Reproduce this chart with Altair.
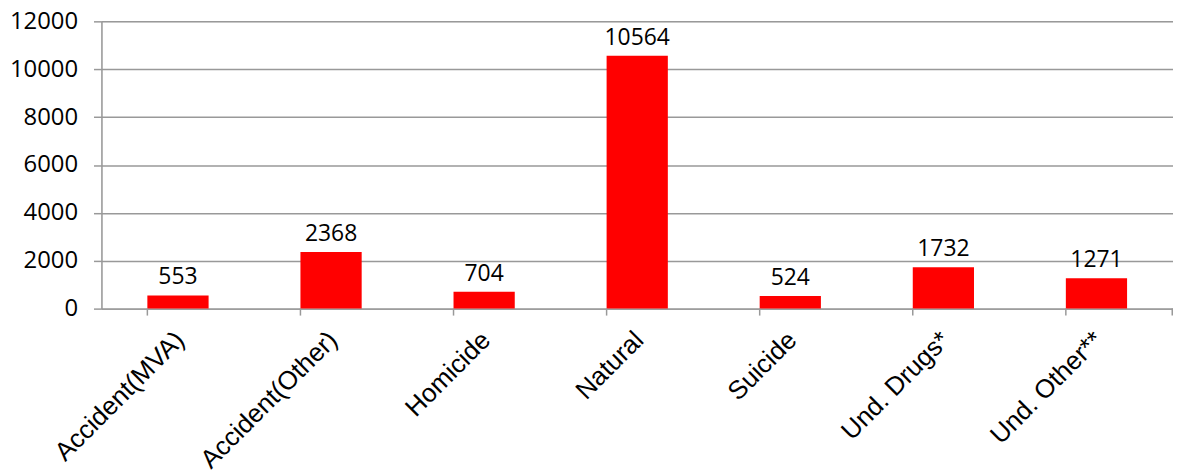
import altair as alt
import pandas as pd

categories = ["Accident(MVA)", "Accident(Other)", "Homicide", "Natural",
              "Suicide", "Und. Drugs*", "Und. Other**"]
values = [553, 2368, 704, 10564, 524, 1732, 1271]

df = pd.DataFrame({"cause": categories, "count": values})

W, H = 1078, 289
GRID = "#999999"

x_enc = alt.X("cause:N", sort=categories, title=None,
              scale=alt.Scale(paddingInner=0.6, paddingOuter=0.3),
              axis=alt.Axis(labelAngle=-45, labelFont="Liberation Sans",
                            labelFontSize=26, labelColor="black",
                            labelLimit=400,
                            labelPadding=18, labelOffset=-7, ticks=False,
                            domainColor=GRID, domainWidth=1.5))

y_enc = alt.Y("count:Q", title=None,
              scale=alt.Scale(domain=[0, 12000]),
              axis=alt.Axis(values=[0, 2000, 4000, 6000, 8000, 10000, 12000],
                            format="d",
                            labelFont="Open Sans", labelFontSize=24,
                            labelColor="black", labelPadding=16,
                            tickSize=8, tickColor=GRID, tickWidth=1.5,
                            gridColor=GRID, gridWidth=1.5,
                            domainColor=GRID, domainWidth=1.5))

base = alt.Chart(df)

bars = base.mark_bar(color="#ff0000").encode(x=x_enc, y=y_enc)

text = base.mark_text(font="Open Sans", fontSize=23, color="black",
                      baseline="bottom", dy=-6).encode(
    x=alt.X("cause:N", sort=categories),
    y="count:Q",
    text="count:Q")

ticks = base.mark_rule(color=GRID, strokeWidth=1.5).encode(
    x=alt.X("cause:N", sort=categories, bandPosition=0),
    y=alt.value(H), y2=alt.value(H + 7))

end_tick = alt.Chart(pd.DataFrame({"a": [0]})).mark_rule(
    color=GRID, strokeWidth=1.5).encode(
    x=alt.value(W - 0.75), y=alt.value(H), y2=alt.value(H + 7))

chart = alt.layer(bars, text, ticks, end_tick).properties(
    width=W, height=H,
    autosize=alt.AutoSizeParams(type="none"),
    padding={"left": 94, "top": 12, "right": 0, "bottom": 175},
).configure_view(stroke=None).configure(background="white")

chart.save("out.html", embed_options={"renderer": "svg", "actions": False})
